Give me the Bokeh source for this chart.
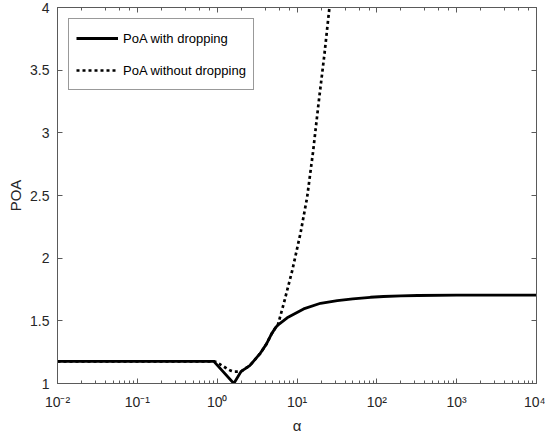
from bokeh.plotting import figure
from bokeh.models import (LogAxis, LinearAxis, FixedTicker, LogTicker,
                          CustomJSTickFormatter, Legend, LegendItem, ColumnDataSource)
from bokeh.embed import file_html
from bokeh.resources import INLINE

# ---- data ----
alpha_with = [0.01, 0.908, 1.617, 2.0, 2.56, 3.42, 4.15, 4.80, 5.43, 5.75,
              7.53, 12.1, 19.7, 32, 50, 83, 121, 200, 324, 1000, 10000]
poa_with = [1.177, 1.177, 1.0, 1.097, 1.143, 1.236, 1.316, 1.396, 1.449, 1.465,
            1.524, 1.595, 1.640, 1.662, 1.676, 1.688, 1.694, 1.699, 1.702, 1.705, 1.705]

alpha_without = [0.01, 0.908, 1.001, 1.10, 1.21, 1.336, 1.47, 1.617, 1.78, 2.0,
                 2.56, 3.42, 4.15, 4.80, 5.43, 5.75, 6.84, 8.71, 11.07, 13.4,
                 15.9, 18.8, 22.0, 25.5]
poa_without = [1.177, 1.177, 1.169, 1.151, 1.135, 1.117, 1.103, 1.095, 1.095, 1.097,
               1.143, 1.236, 1.316, 1.396, 1.449, 1.465, 1.64, 1.90, 2.20, 2.486,
               2.85, 3.258, 3.62, 4.0]

y_ticks = [1, 1.5, 2, 2.5, 3, 3.5, 4]
series_labels = ["PoA with dropping", "PoA without dropping"]
x_label = "\u03b1"
y_label = "POA"

FONT = "Liberation Sans"
AX = "#5a5a5a"
TXT = "#262626"

p = figure(width=545, height=436, x_axis_type="log",
           x_range=(0.01, 10000), y_range=(1, 4),
           output_backend="svg", toolbar_location=None,
           min_border_left=57, min_border_right=9, min_border_top=7,
           min_border_bottom=53)
p.grid.visible = False
p.outline_line_color = None
p.background_fill_color = "white"

src_w = ColumnDataSource(dict(x=alpha_with, y=poa_with))
src_wo = ColumnDataSource(dict(x=alpha_without, y=poa_without))
r_wo = p.line("x", "y", source=src_wo, line_color="black", line_width=2.7,
              line_dash="3 3")
r_w = p.line("x", "y", source=src_w, line_color="black", line_width=2.8)

xsup = CustomJSTickFormatter(code="""
const e = Math.round(Math.log10(tick));
const sup = {'-':'\u207b','0':'\u2070','1':'\u00b9','2':'\u00b2','3':'\u00b3',
             '4':'\u2074','5':'\u2075','6':'\u2076','7':'\u2077','8':'\u2078','9':'\u2079'};
return '10' + String(e).split('').map(c => sup[c]).join('');
""")
yfmt = CustomJSTickFormatter(code="return tick.toString();")
blank = CustomJSTickFormatter(code="return '';")

def style(ax):
    ax.axis_line_color = AX
    ax.axis_line_width = 1
    ax.major_tick_line_color = AX
    ax.minor_tick_line_color = AX
    ax.major_tick_in = 5
    ax.major_tick_out = 0
    ax.minor_tick_in = 3
    ax.minor_tick_out = 0
    ax.major_label_text_font = FONT
    ax.major_label_text_color = TXT
    ax.major_label_text_font_size = "14px"
    ax.major_label_text_line_height = 1.0
    ax.axis_label_text_font = FONT
    ax.axis_label_text_color = TXT
    ax.axis_label_text_font_size = "15px"
    ax.axis_label_text_font_style = "normal"
    ax.axis_label_text_line_height = 1.0

xa = p.xaxis[0]
style(xa)
xa.formatter = xsup
xa.axis_label = x_label
xa.major_label_standoff = 10
xa.axis_label_standoff = 4

ya = p.yaxis[0]
style(ya)
ya.ticker = FixedTicker(ticks=y_ticks)
ya.formatter = yfmt
ya.axis_label = y_label
ya.major_label_standoff = 8
ya.axis_label_standoff = 3

top = LogAxis(ticker=LogTicker())
style(top)
top.major_label_standoff = 0
top.formatter = blank
p.add_layout(top, "above")

right = LinearAxis(ticker=FixedTicker(ticks=y_ticks))
style(right)
right.major_label_standoff = 0
right.formatter = blank
p.add_layout(right, "right")

legend = Legend(items=[LegendItem(label=series_labels[0], renderers=[r_w]),
                       LegendItem(label=series_labels[1], renderers=[r_wo])],
                location="top_left")
legend.margin = 11
legend.padding = 7
legend.spacing = 8
legend.glyph_width = 42
legend.glyph_height = 24
legend.label_height = 24
legend.label_standoff = 5
legend.label_text_font = FONT
legend.label_text_font_size = "13px"
legend.label_text_color = "black"
legend.border_line_color = "#333333"
legend.border_line_width = 1
legend.background_fill_alpha = 1
p.add_layout(legend, "center")

open("out.html", "w", encoding="utf-8").write(file_html(p, INLINE))
